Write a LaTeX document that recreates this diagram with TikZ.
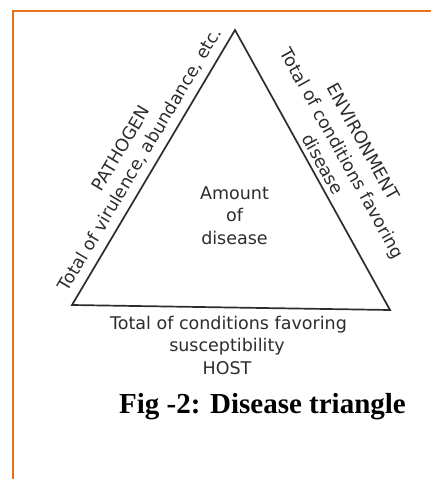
\documentclass[tikz,border=0pt]{standalone}
\usepackage{fontspec}
\newfontfamily\djsans{DejaVu Sans}
\newfontfamily\capfont{Liberation Serif}
\definecolor{frameorange}{RGB}{232,113,26}
\definecolor{ink}{RGB}{45,45,45}
\begin{document}
\begin{tikzpicture}[x=1pt,y=-1pt,
  lbl/.style={font=\djsans\fontsize{17.5}{21}\selectfont, text=ink, inner sep=0pt},
  edge/.style={draw=ink, line width=1.7pt, line join=miter},
  caption/.style={font=\capfont\bfseries\fontsize{29}{34}\selectfont, text=black, inner sep=0pt}]
\useasboundingbox (0,0) rectangle (431,479);
\fill[white] (0,0) rectangle (431,479);
\draw[frameorange, line width=2pt] (13,479) -- (13,11) -- (431,11);
% triangle vertices
\coordinate (A) at (235,30);
\coordinate (B) at (72,305);
\coordinate (C) at (390,310);
\draw[edge] (A) -- (B) -- (C) -- cycle;
% centre
\node[lbl] (amount) at (234.5,193) {Amount};
\node[lbl] (of) at (234.5,215) {of};
\node[lbl] (dis) at (234.5,238) {disease};
% left side (pathogen)
\node[lbl, rotate=59.3] (pathdesc) at (140.2,159.6) {Total of virulence, abundance, etc.};
\node[lbl, rotate=59.3] (pathogen) at (120.8,148.1) {PATHOGEN};
% right side (environment)
\node[lbl, rotate=-61] (envdesc2) at (323.2,164.1) {disease};
\node[lbl, rotate=-61] (envdesc1) at (341.2,154.1) {Total of conditions favoring};
\node[lbl, rotate=-61] (environment) at (363.5,141.8) {ENVIRONMENT};
% bottom (host)
\node[lbl] (hostdesc1) at (228.5,325) {Total of conditions favoring};
\node[lbl] (hostdesc2) at (227,347) {susceptibility};
\node[lbl] (host) at (227,368) {HOST};
% caption
\node[caption] (cap) at (262.5,407) {Fig -2: Disease triangle};
\end{tikzpicture}
\end{document}
